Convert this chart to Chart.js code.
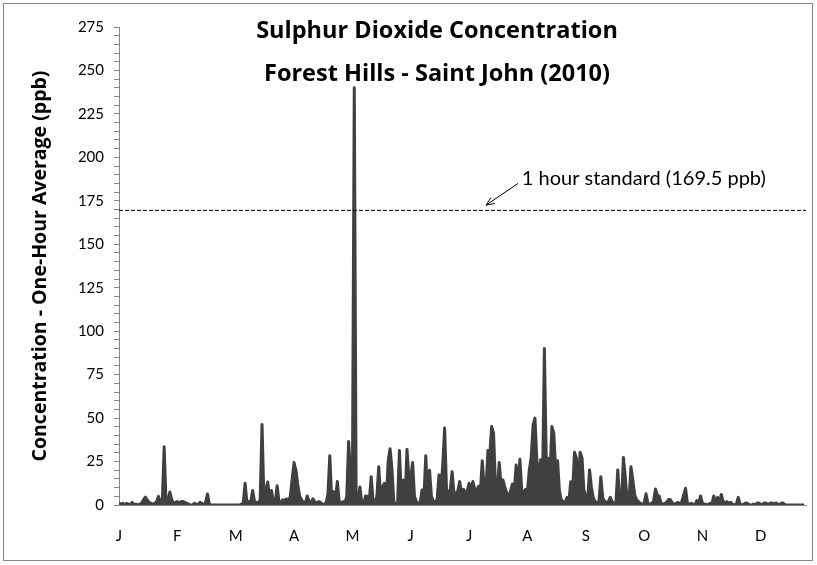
<!DOCTYPE html>
<html>
<head>
<meta charset="utf-8">
<script src="https://cdn.jsdelivr.net/npm/chart.js@4.4.1/dist/chart.umd.min.js"></script>
<style>
  html, body { margin: 0; padding: 0; background: #ffffff; }
  #wrap { width: 817px; height: 565px; }
</style>
</head>
<body>
<div id="wrap"><canvas id="c" width="817" height="565"></canvas></div>
<script>
// ---------- data ----------
const TITLE_LINES = ['Sulphur Dioxide Concentration', 'Forest Hills - Saint John (2010)'];
const Y_TITLE = 'Concentration - One-Hour Average (ppb)';
const MONTH_LABELS = ['J', 'F', 'M', 'A', 'M', 'J', 'J', 'A', 'S', 'O', 'N', 'D'];
const MONTH_TICK_DAYS = [0, 31, 62, 93, 124, 155, 186, 217, 248, 279, 310, 341];
const Y_MIN = 0;
const Y_MAX = 275;
const Y_LABEL_STEP = 25;
const Y_MINOR_STEP = 5;
const DAYS_IN_YEAR = 365;
const STANDARD_VALUE = 169.5;
const STANDARD_LABEL = '1 hour standard (169.5 ppb)';
// annotation anchors in data units (day, ppb)
const ARROW_TIP = { day: 195, value: 172.5 };
const ARROW_TAIL = { day: 212, value: 185 };
const LABEL_ANCHOR = { day: 214, value: 184 };

// peak SO2 concentration per day (ppb)
const SO2_DAILY = [
  1, 0.5, 1, 0, 1, 0.5, 0, 1.5, 0, 0.5,
  0, 0.5, 1, 3, 4.5, 3, 1.5, 1, 0.5, 1,
  2, 5, 1, 1.5, 33.5, 1, 2, 7.5, 3, 1,
  1.5, 2, 1, 2, 2, 1.5, 1, 0.5, 0, 0,
  1, 0.5, 0, 1.5, 1, 0, 1.5, 6.3, 0.5, 0,
  0, 0, 0, 0, 0, 0, 0, 0, 0, 0,
  0, 0, 0, 0, 0, 0.5, 1, 12.5, 1, 2,
  2, 8.3, 2, 1.5, 1, 3, 46.3, 3, 8.6, 13.2,
  4, 8.3, 2, 1, 11.1, 2, 1, 3, 2.5, 3.5,
  1.5, 5, 15, 24.4, 20, 11.5, 5, 3, 1.5, 1,
  5.2, 2, 1, 3.6, 2, 1, 2, 1.5, 0.5, 0.5,
  1, 6.3, 28.4, 3, 7.7, 3, 13.5, 2, 1, 2,
  1, 5, 36.5, 17.3, 8, 240, 3, 2, 10.4, 1,
  1, 5.2, 5, 3, 16.3, 2, 1, 5, 22, 5,
  10.4, 12.5, 3, 25, 32.4, 21, 2, 0.5, 1, 31.3,
  5, 14.4, 3, 32, 16.3, 15.4, 24.4, 5, 2, 1,
  1, 8.6, 4, 28.4, 3, 20, 5, 2, 2, 3,
  17.3, 9, 23, 44.3, 9.4, 5, 9, 19.2, 6, 6.7,
  8, 13.5, 7, 9, 7.3, 8, 12.5, 9, 13.5, 9.4,
  8, 10.8, 8, 25.5, 11, 9, 31.3, 29, 45.1, 41.3,
  11.5, 8, 24.4, 11.5, 14.4, 10, 7, 4, 8, 12.1,
  8, 23, 10, 26.3, 8.6, 7, 9, 8, 20.2, 27.5,
  46, 50, 26, 15, 26, 10, 90, 26, 26.9, 18,
  45.1, 41.3, 20, 25.5, 8, 2.9, 2, 1, 4.4, 2,
  13.4, 8, 30.3, 27, 10, 30.3, 27, 8.6, 5, 3,
  20.2, 10.2, 4, 2, 1.5, 2, 16.3, 4, 2, 1.5,
  2, 4.4, 2, 1, 1, 20.2, 2, 3, 27.3, 16,
  3, 2.5, 22, 14.4, 5.8, 3, 2, 1, 0.5, 1,
  6.5, 1, 0.5, 1, 2, 9.2, 5.8, 5, 1, 0.5,
  1, 1.5, 3.2, 3, 1, 0.5, 1, 1.5, 0.5, 2,
  5.8, 9.6, 1, 0.5, 1, 0.5, 0, 2.5, 1, 5.2,
  1, 0.5, 0.5, 0, 1, 0.5, 5.2, 1, 4.4, 1,
  6.1, 2, 1, 2, 1, 1.5, 0.5, 0, 0.5, 4.4,
  0.5, 0, 0.5, 1.2, 1, 0, 0, 0.5, 0, 1.2,
  1.2, 0, 0.5, 1.2, 1, 0, 1.2, 1.2, 0.5, 1.2,
  0.5, 0, 1.2, 1, 0, 0, 0, 0, 0, 0,
  0, 0, 0, 0, 0
];

// ---------- chart ----------
const FONT = 'Lato, "Open Sans", "DejaVu Sans", sans-serif';
const TITLE_FONT = '"Open Sans", Lato, "DejaVu Sans", sans-serif';
const LINE_COLOR = '#404040';
const AXIS_COLOR = '#868686';

const decor = {
  id: 'decor',
  beforeDraw(chart) {
    const ctx = chart.ctx;
    ctx.save();
    ctx.fillStyle = '#ffffff';
    ctx.fillRect(0, 0, chart.width, chart.height);
    ctx.strokeStyle = AXIS_COLOR;
    ctx.lineWidth = 1;
    ctx.strokeRect(3.5, 3.5, chart.width - 8, chart.height - 8);
    ctx.restore();
  },
  afterDraw(chart) {
    const ctx = chart.ctx;
    const xs = chart.scales.x, ys = chart.scales.y;
    ctx.save();
    // title
    ctx.fillStyle = '#000000';
    ctx.textAlign = 'center';
    ctx.textBaseline = 'alphabetic';
    ctx.font = 'bold 23.5px ' + TITLE_FONT;
    ctx.fillText(TITLE_LINES[0], 437, 38);
    ctx.fillText(TITLE_LINES[1], 437, 81);
    // annotation
    ctx.font = '20px ' + FONT;
    ctx.textAlign = 'left';
    ctx.fillText(STANDARD_LABEL, xs.getPixelForValue(LABEL_ANCHOR.day), ys.getPixelForValue(LABEL_ANCHOR.value));
    const tx = xs.getPixelForValue(ARROW_TIP.day), ty = ys.getPixelForValue(ARROW_TIP.value);
    const sx = xs.getPixelForValue(ARROW_TAIL.day), sy = ys.getPixelForValue(ARROW_TAIL.value);
    ctx.strokeStyle = '#000000';
    ctx.lineWidth = 1;
    ctx.beginPath();
    ctx.moveTo(sx, sy);
    ctx.lineTo(tx, ty);
    const ang = Math.atan2(ty - sy, tx - sx);
    const len = 9, spread = 0.4;
    ctx.moveTo(tx - len * Math.cos(ang - spread), ty - len * Math.sin(ang - spread));
    ctx.lineTo(tx, ty);
    ctx.lineTo(tx - len * Math.cos(ang + spread), ty - len * Math.sin(ang + spread));
    ctx.stroke();
    ctx.restore();
  }
};

new Chart(document.getElementById('c'), {
  type: 'line',
  data: {
    datasets: [
      {
        label: 'SO2',
        data: SO2_DAILY.map((v, i) => ({ x: i, y: v })),
        borderColor: LINE_COLOR,
        backgroundColor: LINE_COLOR,
        borderWidth: 3,
        borderJoinStyle: 'round',
        fill: 'origin',
        pointRadius: 0,
        tension: 0,
        order: 2
      },
      {
        label: 'Standard',
        data: [{ x: 0, y: STANDARD_VALUE }, { x: DAYS_IN_YEAR, y: STANDARD_VALUE }],
        borderColor: '#000000',
        borderWidth: 1,
        borderDash: [4, 2],
        pointRadius: 0,
        fill: false,
        order: 1
      }
    ]
  },
  options: {
    responsive: false,
    devicePixelRatio: 1,
    animation: false,
    layout: { padding: { left: 0, right: 11, top: 27, bottom: 12 } },
    plugins: {
      legend: { display: false },
      title: { display: false },
      tooltip: { enabled: false }
    },
    scales: {
      x: {
        type: 'linear',
        min: 0,
        max: DAYS_IN_YEAR,
        afterBuildTicks(scale) {
          scale.ticks = MONTH_TICK_DAYS.map(v => ({ value: v }));
        },
        afterFit(scale) { scale.height = 48; },
        ticks: {
          autoSkip: false,
          maxRotation: 0,
          padding: 22,
          color: '#000000',
          font: { family: FONT, size: 15 },
          callback: (v) => MONTH_LABELS[MONTH_TICK_DAYS.indexOf(v)]
        },
        grid: { drawOnChartArea: false, drawTicks: false },
        border: { color: AXIS_COLOR, width: 1 }
      },
      y: {
        min: Y_MIN,
        max: Y_MAX,
        afterFit(scale) { scale.width = 119; },
        ticks: {
          stepSize: Y_MINOR_STEP,
          autoSkip: false,
          padding: 10,
          color: '#000000',
          font: { family: FONT, size: 15 },
          callback: (v) => (v % Y_LABEL_STEP === 0 ? v : '')
        },
        grid: { drawOnChartArea: false, drawTicks: true, tickLength: 5, color: AXIS_COLOR },
        border: { color: AXIS_COLOR, width: 1 },
        title: {
          display: true,
          text: Y_TITLE,
          color: '#000000',
          font: { family: TITLE_FONT, size: 19.5, weight: 'bold' },
          padding: { top: 29, bottom: 0 }
        }
      }
    }
  },
  plugins: [decor]
});
</script>
</body>
</html>
